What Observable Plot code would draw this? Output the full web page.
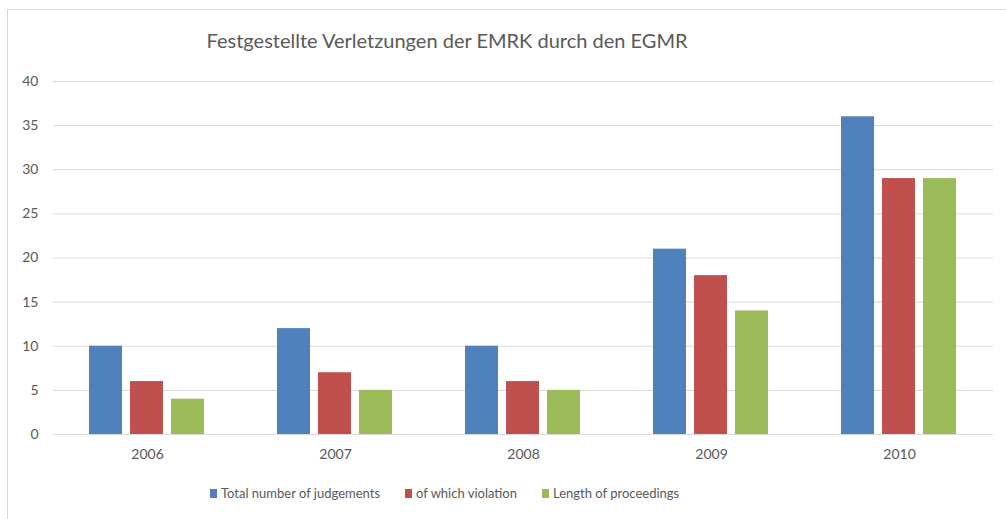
<!DOCTYPE html>
<html>
<head>
<meta charset="utf-8">
<script src="https://cdn.jsdelivr.net/npm/d3@7"></script>
<script src="https://cdn.jsdelivr.net/npm/@observablehq/plot@0.6"></script>
<style>
  html, body { margin: 0; padding: 0; background: #fff; }
  #wrap { position: relative; width: 1006px; height: 519px; overflow: hidden; font-family: Lato, "Open Sans", sans-serif; color: #595959; }
  #frame { position: absolute; left: 7px; top: 9px; width: 1010px; height: 520px; border-left: 1.5px solid #d9d9d9; border-top: 1.5px solid #d9d9d9; }
  #title { position: absolute; top: 28px; left: 0; width: 894px; text-align: center; font-size: 20px; white-space: nowrap; }
  #chart { position: absolute; left: 0; top: 0; }
  #legend { position: absolute; top: 485px; left: 210px; display: flex; font-size: 13px; white-space: nowrap; }
  .item { display: flex; align-items: center; }
  .sw { width: 7px; height: 9px; margin-right: 4px; }
</style>
</head>
<body>
<div id="wrap">
  <div id="frame"></div>
  <div id="title">Festgestellte Verletzungen der EMRK durch den EGMR</div>
  <div id="chart"></div>
  <div id="legend"></div>
</div>
<script>
const years = ["2006", "2007", "2008", "2009", "2010"];
const seriesNames = ["Total number of judgements", "of which violation", "Length of proceedings"];
const seriesColors = ["#4F81BD", "#C0504D", "#9BBB59"];
const totalJudgements = [10, 12, 10, 21, 36];
const ofWhichViolation = [6, 7, 6, 18, 29];
const lengthOfProceedings = [4, 5, 5, 14, 29];
const yTicks = [0, 5, 10, 15, 20, 25, 30, 35, 40];

const seriesValues = [totalJudgements, ofWhichViolation, lengthOfProceedings];
const data = [];
years.forEach((yr, i) => {
  seriesNames.forEach((s, j) => {
    data.push({year: yr, series: s, value: seriesValues[j][i]});
  });
});

const chart = Plot.plot({
  width: 1006,
  height: 519,
  marginTop: 81,
  marginBottom: 85,
  marginLeft: 51,
  marginRight: 12,
  style: {fontFamily: "Lato, 'Open Sans', sans-serif", fontSize: "14px", color: "#595959", background: "transparent"},
  fx: {domain: years, padding: 0, label: null},
  x: {domain: seriesNames, paddingInner: 8 / 42, paddingOuter: 0.88, axis: null},
  y: {domain: [0, 40]},
  color: {domain: seriesNames, range: seriesColors},
  marks: [
    Plot.gridY(yTicks, {stroke: "#d9d9d9", strokeOpacity: 1, strokeWidth: 1}),
    Plot.barY(data, {fx: "year", x: "series", y: "value", fill: "series"}),
    Plot.axisY({ticks: yTicks, tickSize: 0, tickPadding: 15, label: null, fill: "#595959"}),
    Plot.axisFx({anchor: "bottom", tickSize: 0, tickPadding: 15, label: null, fill: "#595959"})
  ]
});
document.getElementById("chart").appendChild(chart);

const legend = document.getElementById("legend");
const gaps = [25, 25, 0];
seriesNames.forEach((s, j) => {
  const item = document.createElement("div");
  item.className = "item";
  item.style.marginRight = gaps[j] + "px";
  const sw = document.createElement("span");
  sw.className = "sw";
  sw.style.background = seriesColors[j];
  const t = document.createElement("span");
  t.textContent = s;
  item.appendChild(sw);
  item.appendChild(t);
  legend.appendChild(item);
});
</script>
</body>
</html>
